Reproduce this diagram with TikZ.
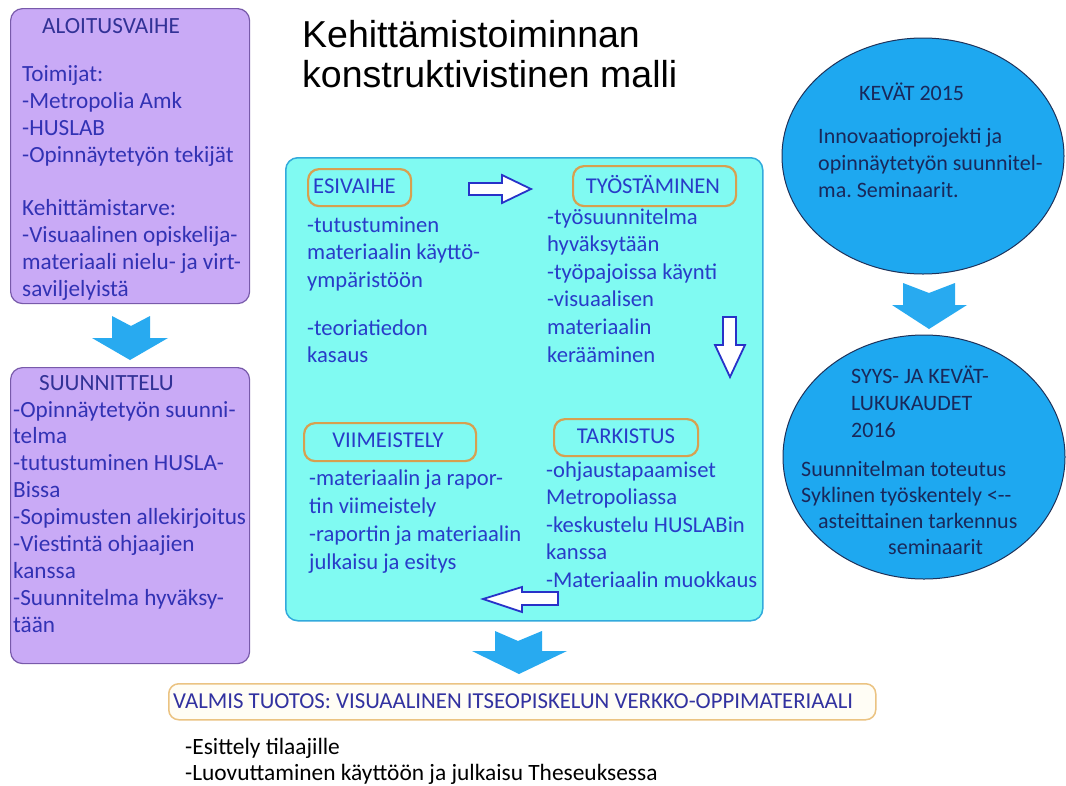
\documentclass[tikz,border=0pt]{standalone}
\usepackage{fontspec}
\setmainfont{Carlito}
\newfontfamily\titlefont{Liberation Sans}
\usetikzlibrary{shapes.geometric}
\frenchspacing
\definecolor{purplefill}{RGB}{201,170,246}
\definecolor{purpleborder}{RGB}{120,90,170}
\definecolor{purpletext}{RGB}{50,50,180}
\definecolor{purplehead}{RGB}{50,50,150}
\definecolor{cyanfill}{RGB}{128,250,242}
\definecolor{cyanborder}{RGB}{50,170,220}
\definecolor{cyantext}{RGB}{40,60,200}
\definecolor{orangeborder}{RGB}{215,160,80}
\definecolor{hollowblue}{RGB}{40,50,200}
\definecolor{solidblue}{RGB}{40,170,240}
\definecolor{circlefill}{RGB}{30,168,240}
\definecolor{circleborder}{RGB}{30,50,90}
\definecolor{circletext}{RGB}{25,40,90}
\definecolor{valmisfill}{RGB}{255,253,245}
\definecolor{valmisborder}{RGB}{235,195,130}
\definecolor{valmistext}{RGB}{50,50,160}
\newcommand\ml[1]{\begin{tabular}[t]{@{}l@{}}#1\end{tabular}}
\tikzset{
  purplebox/.style={draw=purpleborder, fill=purplefill, line width=1.2pt, rounded corners=12pt, anchor=north west, inner sep=0pt},
  cyanbox/.style={draw=cyanborder, fill=cyanfill, line width=1.5pt, rounded corners=12pt, anchor=north west, inner sep=0pt},
  orangebox/.style={draw=orangeborder, line width=2.2pt, rounded corners=11pt, anchor=north west, inner sep=0pt},
  circ/.style={ellipse, draw=circleborder, fill=circlefill, line width=1pt, inner sep=0pt},
  txt/.style={inner sep=0pt, anchor=base west, align=left},
  ptxt/.style={txt, text=purpletext, font=\fontsize{23.2}{26.8}\selectfont},
  ctxt/.style={txt, text=cyantext, font=\fontsize{22.6}{27.6}\selectfont},
  otxt/.style={txt, text=circletext, font=\fontsize{22}{26.5}\selectfont},
  hollow/.style={draw=hollowblue, fill=white, line width=1.8pt, line join=miter},
  solid/.style={fill=solidblue, draw=none},
}
\begin{document}
\begin{tikzpicture}[x=1pt, y=-1pt]
\useasboundingbox[fill=white] (0,0) rectangle (1066,785);

% title
\node[txt, font=\titlefont\fontsize{37.5}{40}\selectfont, text=black] (title) at (302,47)
  {\ml{Kehittämistoiminnan\\konstruktivistinen malli}};

% left column
\node[purplebox, minimum width=239pt, minimum height=295pt] (aloitus) at (10,8) {};
\node[ptxt, text=purplehead] (aloitusT) at (42,33) {ALOITUSVAIHE};
\node[ptxt] (aloitusB) at (22,81.7) {\ml{Toimijat:\\-Metropolia Amk\\-HUSLAB\\-Opinnäytetyön tekijät\\ \\Kehittämistarve:\\-Visuaalinen opiskelija-\\materiaali nielu- ja virt-\\saviljelyistä}};

\path[solid] (112,316) -- (131,326) -- (150,316) -- (150,338) -- (168,338) -- (130,360) -- (92,338) -- (112,338) -- cycle;

\node[purplebox, minimum width=239pt, minimum height=296pt] (suunn) at (10,367) {};
\node[ptxt, text=purplehead] (suunnT) at (39,390) {SUUNNITTELU};
\node[ptxt, font=\fontsize{23.2}{26.9}\selectfont] (suunnB) at (13,417) {\ml{-Opinnäytetyön suunni-\\telma\\-tutustuminen HUSLA-\\Bissa\\-Sopimusten allekirjoitus\\-Viestintä ohjaajien\\kanssa\\-Suunnitelma hyväksy-\\tään}};

% centre
\node[cyanbox, minimum width=477pt, minimum height=463pt] (cycle) at (285,157) {};

\node[orangebox, minimum width=103pt, minimum height=37pt] (esiB) at (307,168) {};
\node[ctxt] (esiT) at (313,193) {ESIVAIHE};
\node[orangebox, minimum width=163pt, minimum height=40pt] (tyoB) at (572,165) {};
\node[ctxt, anchor=base] (tyoT) at (653,193) {TYÖSTÄMINEN};
\node[orangebox, minimum width=172pt, minimum height=38pt] (viiB) at (303,422) {};
\node[ctxt, anchor=base] (viiT) at (388,447) {VIIMEISTELY};
\node[orangebox, minimum width=144pt, minimum height=37pt] (tarB) at (553,418) {};
\node[ctxt, anchor=base] (tarT) at (626,443) {TARKISTUS};

\node[ctxt] (esi1) at (307,232) {\ml{-tutustuminen\\materiaalin käyttö-\\ympäristöön}};
\node[ctxt] (esi2) at (307,335) {\ml{-teoriatiedon\\kasaus}};
\node[ctxt] (tyo1) at (547,224) {\ml{-työsuunnitelma\\hyväksytään\\-työpajoissa käynti\\-visuaalisen\\materiaalin\\kerääminen}};
\node[ctxt, font=\fontsize{22.6}{28}\selectfont] (vii1) at (309,485) {\ml{-materiaalin ja rapor-\\tin viimeistely\\-raportin ja materiaalin\\julkaisu ja esitys}};
\node[ctxt, font=\fontsize{22.6}{27.5}\selectfont] (tar1) at (546,477) {\ml{-ohjaustapaamiset\\Metropoliassa\\-keskustelu HUSLABin\\kanssa\\-Materiaalin muokkaus}};

\draw[hollow] (469,183) -- (502,183) -- (502,175) -- (531,189) -- (502,203) -- (502,195) -- (469,195) -- cycle;
\draw[hollow] (723,317) -- (736,317) -- (736,345) -- (745,345) -- (730,377) -- (715,345) -- (723,345) -- cycle;
\draw[hollow] (558,592) -- (522,592) -- (522,587) -- (483,599) -- (522,612) -- (522,605) -- (558,605) -- cycle;

\path[solid] (495,631) -- (518,641) -- (542,631) -- (542,651) -- (567,651) -- (519,674) -- (472,651) -- (495,651) -- cycle;

% result
\node[draw=valmisborder, fill=valmisfill, line width=1.5pt, rounded corners=10pt, anchor=north west, inner sep=0pt, minimum width=707pt, minimum height=36pt] (valmis) at (168,683) {};
\node[txt, text=valmistext, font=\fontsize{22.8}{26}\selectfont] (valmisT) at (173,708) {VALMIS TUOTOS: VISUAALINEN ITSEOPISKELUN VERKKO-OPPIMATERIAALI};
\node[txt, text=black, font=\fontsize{23.4}{26}\selectfont] (valmisB) at (185,754) {\ml{-Esittely tilaajille\\-Luovuttaminen käyttöön ja julkaisu Theseuksessa}};

% right column
\node[circ, minimum width=282pt, minimum height=236pt] (kevat) at (923,156) {};
\node[otxt] (kevatT) at (859,100) {KEVÄT 2015};
\node[otxt, font=\fontsize{22}{27}\selectfont] (kevatB) at (818,143) {\ml{Innovaatioprojekti ja\\opinnäytetyön suunnitel-\\ma. Seminaarit.}};

\path[solid] (903,283) -- (929,293) -- (955,283) -- (955,305) -- (967,305) -- (929,329) -- (892,305) -- (903,305) -- cycle;

\node[circ, minimum width=282pt, minimum height=244pt] (syys) at (924,457) {};
\node[otxt, font=\fontsize{22}{27}\selectfont] (syysT) at (851,383) {\ml{SYYS- JA KEVÄT-\\LUKUKAUDET\\2016}};
\node[otxt, font=\fontsize{22}{26}\selectfont] (syysB) at (801,476) {\ml{Suunnitelman toteutus\\Syklinen työskentely <-{}-\\\hspace{17pt}asteittainen tarkennus\\\hspace{87pt}seminaarit}};
\end{tikzpicture}
\end{document}
